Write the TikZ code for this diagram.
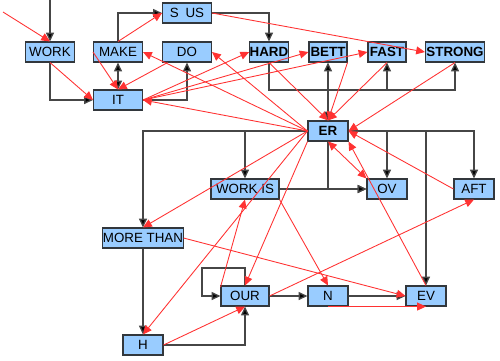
\documentclass[tikz,border=0pt]{standalone}
\usepackage{fontspec}
\setmainfont{Liberation Sans}
\usetikzlibrary{arrows.meta, calc, positioning}
\definecolor{boxfill}{RGB}{153,204,255}
\definecolor{boxline}{RGB}{50,55,60}
\definecolor{linkgray}{RGB}{70,70,70}
\definecolor{linkred}{RGB}{255,50,50}

\begin{document}
\begin{tikzpicture}[x=0.02cm, y=-0.02cm,
    box/.style={draw=boxline, line width=0.6pt, fill=boxfill, inner sep=0pt,
        minimum height=0.4cm, minimum width=0.98cm, font=\fontsize{7.6}{8}\selectfont},
    bbox/.style={box, font=\fontsize{7.6}{8}\selectfont\bfseries},
    link/.style={draw=linkgray, line width=0.75pt, -{Triangle[length=5pt, width=4.5pt, fill=black]}},
    rlink/.style={draw=linkred, line width=0.5pt, -{Triangle[length=5pt, width=4.5pt]}}]
    \useasboundingbox (0,0) rectangle (500,360);

    % Nodes
    \node[box] (work) at (50,52) {WORK};
    \node[box] (make) at (118,52) {MAKE};
    \node[box] (sus) at (187,13) {S\enspace US};
    \node[box] (do) at (187,52) {DO};
    \node[bbox, minimum width=0.76cm] (hard) at (269,52) {HARD};
    \node[bbox, minimum width=0.76cm] (bett) at (328,52) {BETT};
    \node[bbox, minimum width=0.76cm] (fast) at (387,52) {FAST};
    \node[bbox, minimum width=1.18cm] (strong) at (455,52) {STRONG};
    \node[box] (it) at (118,100) {IT};
    \node[bbox, minimum width=0.8cm] (er) at (328,131) {ER};
    \node[box, minimum width=1.36cm] (workis) at (245,189) {WORK IS};
    \node[box, minimum width=0.8cm] (ov) at (387,189) {OV};
    \node[box, minimum width=0.8cm] (aft) at (474,189) {AFT};
    \node[box, minimum width=1.6cm] (more) at (143,238) {MORE THAN};
    \node[box, minimum width=0.96cm] (our) at (245,296) {OUR};
    \node[box, minimum width=0.8cm] (n) at (328,296) {N};
    \node[box, minimum width=0.8cm] (ev) at (426,296) {EV};
    \node[box, minimum width=0.8cm] (h) at (143,345) {H};

    \coordinate (top) at (50,0);
    \coordinate (tl) at (3,12);
    \coordinate (hbus) at (0,90);

    % Black connectors
    \draw[link] (top) -- (work);
    \draw[link] (work) |- (it);
    \draw[link] (make) |- (sus);
    \draw[link, {Triangle[length=5pt, width=4.5pt, fill=black]}-{Triangle[length=5pt, width=4.5pt, fill=black]}] (make) -- (it);
    \draw[link] (it) -| (do);
    \draw[link] (sus) -| (hard);
    \draw[link] (hard) |- (hbus -| fast) -- (fast);
    \draw[link] (hard) |- (hbus -| strong) -- (strong);
    \draw[link, {Triangle[length=5pt, width=4.5pt, fill=black]}-{Triangle[length=5pt, width=4.5pt, fill=black]}] (er) -- (bett);
    \draw[link] (er) -| (more);
    \draw[link] (er) -| (workis);
    \draw[link] (er) -| (ov);
    \draw[link] (er) -| (ev);
    \draw[link] (er) -| (aft);
    \draw[link] (er) |- (ov);
    \draw[link] (workis) -- (ov);
    \draw[link] (more) -- (h);
    \draw[link] (h) -| (our);
    \draw[link] (our.north) |- (202,268) |- (our.west);
    \draw[link] (our) -- (n);
    \draw[link] (n) -- (ev);

    % Red connectors
    \draw[rlink] (tl) -- (work.north);
    \draw[rlink] (work.south) -- (it.west);
    \draw[rlink] (make.west) -- (it.north);
    \draw[rlink] (do) -- (it.north);
    \draw[rlink] (make.north) -- (sus.west);
    \draw[rlink] (sus.east) -- (strong.west);
    \draw[rlink] (er.west) -- (make.east);
    \draw[rlink] (er.west) -- (do.east);
    \draw[rlink] (er.west) -- (it.east);
    \draw[rlink] (it.east) -- (hard.west);
    \draw[rlink] (it.east) -- (bett.west);
    \draw[rlink] (it.east) -- (fast.west);
    \draw[rlink] (hard.south) -- (er.north);
    \draw[rlink] (bett.south east) -- (er.north);
    \draw[rlink] (fast.south) -- (er.north);
    \draw[rlink] (strong.south) -- (er.east);
    \draw[rlink] (aft.west) -- (er.east);
    \draw[rlink] (ev.north) -- (er.south east);
    \draw[rlink, {Triangle[length=5pt, width=4.5pt]}-{Triangle[length=5pt, width=4.5pt]}] (er.south) -- (ov.north west);
    \draw[rlink] (er.west) -- (more.north);
    \draw[rlink] (er.west) -- (h.north);
    \draw[rlink] (er.south west) -- (our.north);
    \draw[rlink] (our.160) -- (workis.south);
    \draw[rlink] (workis.south east) -- (n.north);
    \draw[rlink] (more.east) -- (ev.west);
    \draw[rlink] (our.east) -- (aft.south);
    \draw[rlink] (h.east) -- (our.south);
    \draw[rlink] (n.south) -- (ev.south);
\end{tikzpicture}
\end{document}
